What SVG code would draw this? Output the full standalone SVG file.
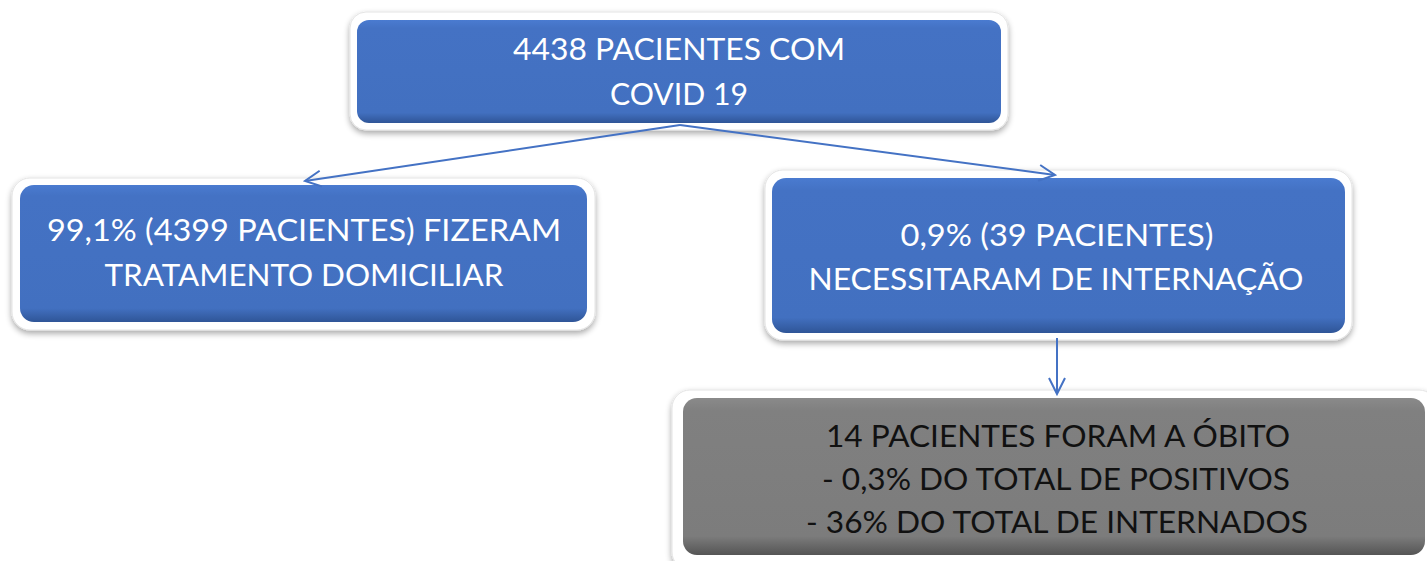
<svg xmlns="http://www.w3.org/2000/svg" width="1427" height="561" viewBox="0 0 1427 561">
<defs>
<linearGradient id="gBlue" x1="0" y1="0" x2="0" y2="1">
<stop offset="0" stop-color="#4a7bd0"/>
<stop offset="0.08" stop-color="#4472c4"/>
<stop offset="0.9" stop-color="#4270c0"/>
<stop offset="1" stop-color="#2f5597"/>
</linearGradient>
<linearGradient id="gGray" x1="0" y1="0" x2="0" y2="1">
<stop offset="0" stop-color="#8a8a8a"/>
<stop offset="0.08" stop-color="#808080"/>
<stop offset="0.88" stop-color="#7c7c7c"/>
<stop offset="1" stop-color="#555555"/>
</linearGradient>
<filter id="sh" x="-5%" y="-10%" width="110%" height="125%">
<feGaussianBlur in="SourceAlpha" stdDeviation="3"/>
<feOffset dx="0" dy="3" result="b"/>
<feComponentTransfer><feFuncA type="linear" slope="0.35"/></feComponentTransfer>
<feMerge><feMergeNode/><feMergeNode in="SourceGraphic"/></feMerge>
</filter>
<marker id="arr" viewBox="0 0 20 20" refX="18" refY="10" markerWidth="20" markerHeight="20" markerUnits="userSpaceOnUse" orient="auto">
<path d="M2,2 L18,10 L2,18" fill="none" stroke="#4472c4" stroke-width="2"/>
</marker>
</defs>
<style>
.frame{fill:#ffffff;stroke:#e4e4e4;stroke-width:1;filter:url(#sh)}
.blue{fill:url(#gBlue)}
.gray{fill:url(#gGray)}
.t{font-family:Lato,"Open Sans","Liberation Sans",sans-serif;font-size:30px;text-anchor:middle}
.w{fill:#ffffff}
.k{fill:#111111}
.conn{stroke:#4472c4;stroke-width:2;fill:none;marker-end:url(#arr)}
</style>
<rect width="1427" height="561" fill="#ffffff"/>
<g id="n1">
<rect class="frame" x="350" y="12" width="658" height="118" rx="16"/>
<rect class="blue" x="357" y="20" width="644" height="103" rx="12"/>
<text class="t w" x="679" y="60" textLength="332" lengthAdjust="spacingAndGlyphs">4438 PACIENTES COM</text>
<text class="t w" x="679" y="105" textLength="138" lengthAdjust="spacingAndGlyphs">COVID 19</text>
</g>
<g id="n2">
<rect class="frame" x="12" y="178" width="583" height="152" rx="18"/>
<rect class="blue" x="20" y="185" width="567" height="137" rx="14"/>
<text class="t w" x="304" y="241" textLength="514" lengthAdjust="spacingAndGlyphs">99,1% (4399 PACIENTES) FIZERAM</text>
<text class="t w" x="304" y="286" textLength="399" lengthAdjust="spacingAndGlyphs">TRATAMENTO DOMICILIAR</text>
</g>
<g id="n3">
<rect class="frame" x="765" y="170" width="587" height="170" rx="18"/>
<rect class="blue" x="772" y="178" width="573" height="155" rx="14"/>
<text class="t w" x="1057" y="246" textLength="313" lengthAdjust="spacingAndGlyphs">0,9% (39 PACIENTES)</text>
<text class="t w" x="1056" y="290" textLength="495" lengthAdjust="spacingAndGlyphs">NECESSITARAM DE INTERNAÇÃO</text>
</g>
<g id="n4">
<rect class="frame" x="672" y="390" width="765" height="180" rx="18"/>
<rect class="gray" x="683" y="398" width="742" height="157" rx="14"/>
<text class="t k" x="1058" y="447" textLength="464" lengthAdjust="spacingAndGlyphs">14 PACIENTES FORAM A ÓBITO</text>
<text class="t k" x="1056" y="490" textLength="468" lengthAdjust="spacingAndGlyphs">- 0,3% DO TOTAL DE POSITIVOS</text>
<text class="t k" x="1057" y="533" textLength="502" lengthAdjust="spacingAndGlyphs">- 36% DO TOTAL DE INTERNADOS</text>
</g>
<g id="connectors">
<path class="conn" d="M680,125 L305,181"/>
<path class="conn" d="M680,125 L1055,175"/>
<path class="conn" d="M1057,338 L1057,394"/>
</g>
</svg>
